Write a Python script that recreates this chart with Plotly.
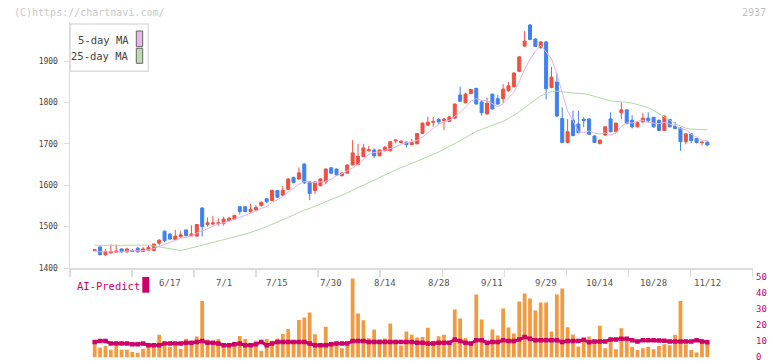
import plotly.graph_objects as go

# ---------------- data ----------------
opens = [1442, 1451, 1432, 1436, 1438, 1446, 1439, 1442, 1448, 1440,
         1443, 1442, 1460, 1489, 1482, 1469, 1476, 1492, 1478, 1477,
         1545, 1505, 1506, 1508, 1508, 1514, 1518, 1548, 1548, 1537,
         1540, 1551, 1567, 1563, 1587, 1576, 1590, 1619, 1615, 1651,
         1608, 1587, 1599, 1608, 1642, 1639, 1623, 1629, 1649, 1650,
         1669, 1683, 1685, 1671, 1683, 1683, 1707, 1703, 1704, 1698,
         1700, 1725, 1745, 1752, 1759, 1756, 1754, 1762, 1818, 1799,
         1821, 1834, 1801, 1772, 1820, 1809, 1809, 1828, 1838, 1875,
         1936, 1987, 1953, 1932, 1946, 1836, 1849, 1761, 1703, 1757,
         1748, 1759, 1760, 1719, 1701, 1721, 1760, 1729, 1775, 1782,
         1757, 1741, 1753, 1762, 1764, 1757, 1732, 1759, 1743, 1738,
         1705, 1724, 1713, 1703, 1704]
highs = [1444, 1452, 1446, 1457, 1457, 1447, 1449, 1446, 1450, 1451,
         1455, 1458, 1470, 1490, 1484, 1492, 1489, 1492, 1503, 1506,
         1547, 1522, 1526, 1520, 1524, 1524, 1529, 1550, 1549, 1555,
         1552, 1560, 1568, 1590, 1588, 1598, 1617, 1620, 1643, 1653,
         1609, 1609, 1617, 1640, 1644, 1640, 1632, 1650, 1709, 1700,
         1700, 1695, 1689, 1687, 1695, 1706, 1710, 1709, 1705, 1712,
         1726, 1751, 1765, 1765, 1762, 1762, 1767, 1797, 1838, 1823,
         1833, 1835, 1806, 1812, 1821, 1818, 1844, 1849, 1872, 1911,
         1972, 1989, 1955, 1947, 1948, 1886, 1870, 1788, 1760, 1780,
         1780, 1764, 1762, 1720, 1710, 1742, 1776, 1751, 1800, 1783,
         1769, 1753, 1774, 1776, 1765, 1758, 1768, 1760, 1753, 1740,
         1725, 1725, 1714, 1705, 1707]
lows = [1441, 1431, 1430, 1435, 1437, 1437, 1437, 1439, 1438, 1439,
        1442, 1441, 1454, 1462, 1468, 1468, 1474, 1477, 1476, 1476,
        1476, 1500, 1505, 1502, 1502, 1512, 1517, 1529, 1535, 1534,
        1538, 1548, 1557, 1562, 1570, 1574, 1589, 1606, 1613, 1603,
        1564, 1579, 1597, 1602, 1628, 1622, 1621, 1628, 1648, 1648,
        1668, 1682, 1665, 1670, 1682, 1682, 1701, 1701, 1691, 1697,
        1699, 1724, 1744, 1741, 1748, 1733, 1752, 1761, 1801, 1798,
        1820, 1795, 1768, 1771, 1783, 1794, 1799, 1826, 1836, 1873,
        1934, 1950, 1934, 1930, 1807, 1834, 1764, 1702, 1702, 1718,
        1725, 1740, 1722, 1702, 1698, 1719, 1728, 1728, 1759, 1747,
        1737, 1740, 1751, 1750, 1739, 1731, 1731, 1740, 1735, 1683,
        1699, 1701, 1701, 1696, 1695]
closes = [1444, 1432, 1440, 1440, 1441, 1439, 1446, 1440, 1439, 1446,
          1450, 1458, 1467, 1466, 1470, 1477, 1480, 1478, 1482, 1505,
          1500, 1509, 1509, 1509, 1518, 1520, 1527, 1536, 1536, 1542,
          1546, 1559, 1560, 1587, 1571, 1588, 1615, 1606, 1630, 1606,
          1580, 1608, 1615, 1639, 1629, 1625, 1629, 1649, 1678, 1670,
          1690, 1686, 1671, 1685, 1691, 1705, 1709, 1706, 1698, 1703,
          1725, 1750, 1752, 1754, 1753, 1760, 1765, 1796, 1803, 1820,
          1831, 1796, 1775, 1798, 1784, 1796, 1832, 1840, 1871, 1910,
          1948, 1952, 1935, 1946, 1833, 1861, 1767, 1703, 1729, 1720,
          1727, 1756, 1723, 1703, 1709, 1741, 1729, 1750, 1782, 1749,
          1741, 1751, 1762, 1756, 1741, 1732, 1767, 1741, 1737, 1705,
          1724, 1708, 1703, 1704, 1697]
# closes of the 24 sessions before the first visible one (only feed the moving averages)
pre_closes = [1445, 1440, 1438, 1442, 1436, 1440, 1444, 1438, 1441, 1439,
              1515, 1530, 1528, 1522, 1532, 1520,
              1410, 1402, 1406, 1402,
              1442, 1438, 1441, 1440]

bar_vals = [9.8, 6, 7, 4.6, 7, 4.6, 4.6, 3.3, 2.7, 5.2,
            7, 6.5, 14, 7, 6.5, 7, 5.2, 11.5, 9.8, 12.8,
            35, 11, 8.8, 11.3, 6.7, 8.8, 6.9, 13.2, 11.3, 6.3,
            10.3, 4, 11.3, 10.3, 11.7, 14.4, 17.6, 10.3, 23.2, 24.7,
            27.8, 14.2, 7, 19, 8, 8, 5.5, 7.5, 49, 27.2,
            23, 11.8, 17.2, 11.2, 11.6, 21, 10.8, 7.3, 16, 14,
            12.2, 12.6, 18.3, 10.2, 13, 14, 10, 29.7, 24.1, 12,
            8.5, 39, 23.4, 9, 17.2, 13.5, 30.3, 18.4, 14.7, 34.6,
            39.6, 36.5, 29, 34, 34, 16, 39, 42.7, 18.7, 14.1,
            6.6, 11, 12.8, 9.5, 19.5, 5.5, 10.5, 5, 18, 10,
            6.5, 4.5, 5.5, 6.5, 5, 7, 8, 7.5, 14, 35,
            8, 4.5, 3, 9.5, 9.5]
ai_vals = [9.5, 10, 10, 8.5, 8.5, 8.5, 8.5, 8, 8, 8.5,
           7.5, 7.5, 7.5, 8.5, 8.5, 8.5, 8.5, 9, 9, 9.5,
           10, 9, 9, 8.5, 7.5, 7.5, 8, 8.5, 7.5, 7.5,
           8, 9.5, 7.5, 8.5, 9.5, 9.5, 9.5, 9.5, 9.5, 9.5,
           8.5, 7.5, 7.5, 7.5, 8, 8.5, 8.5, 8.5, 10, 10,
           10, 9.5, 9.5, 9.5, 9.5, 9.5, 9.5, 9.5, 9.5, 9.5,
           9, 9, 8.5, 8.5, 9, 9, 9, 11, 10, 9,
           8.5, 10.5, 10.5, 9, 9.5, 9.5, 10.5, 10, 10, 11,
           12.5, 11.5, 10.5, 10.5, 10.5, 10.5, 10.5, 9.5, 10, 10,
           10, 10.8, 9.3, 9.7, 9.7, 9.7, 11, 11, 11.4, 11.4,
           10.6, 9.7, 10.6, 10.6, 10.6, 10.4, 10.2, 9.7, 9.7, 9.7,
           9.7, 9.7, 10.6, 9.8, 9.3]

tick_labels = ["6/17", "7/1", "7/15", "7/30", "8/14", "8/28", "9/11",
               "9/29", "10/14", "10/28", "11/12"]
tick_index = [14, 24, 34, 44, 54, 64, 74, 84, 94, 104, 114]
y_ticks = [1400, 1500, 1600, 1700, 1800, 1900]
y2_ticks = [0, 10, 20, 30, 40, 50]

# ---------------- derived ----------------
n = len(closes)
idx = list(range(n))
full = pre_closes + closes
off = len(pre_closes)
ma5 = [sum(full[off + i - 4: off + i + 1]) / 5 for i in range(n)]
ma25 = [sum(full[off + i - 24: off + i + 1]) / 25 for i in range(n)]

# ---------------- geometry helpers ----------------
W, H = 772, 361
ML, MR = 70, 19
PW = W - ML - MR
STEP = 5.374          # px per session
X0_PX = 94.7          # pixel of first session
x_lo = (ML - X0_PX) / STEP
x_hi = x_lo + PW / STEP


def px(p):
    return (p - ML) / PW


def py(p):
    return 1 - p / H


up_top_px, up_bot_px = 22, 268
pps = 0.414  # px per price unit
y_hi = 1400 + (up_bot_px - up_top_px) / pps

low_pps = 1.608  # px per unit in the lower panel
low_zero_px = 357.2
low_min = -0.6
low_bot_px = low_zero_px - low_min * low_pps
low_top_px = low_zero_px - 50 * low_pps

FONT = "DejaVu Sans Mono"
RED = "#ef5040"
BLUE = "#4080f0"
MAG = "#cc0066"

fig = go.Figure()

fig.add_trace(go.Bar(x=idx, y=bar_vals, marker=dict(color="#f39a40", line=dict(width=0)),
                     xaxis="x2", yaxis="y2", hoverinfo="skip"))
fig.add_trace(go.Scatter(x=idx, y=ai_vals, mode="lines+markers",
                         line=dict(color=MAG, width=3),
                         marker=dict(symbol="square", size=4.5, color=MAG),
                         xaxis="x2", yaxis="y2"))

fig.add_trace(go.Scatter(x=idx, y=ma25, mode="lines", line=dict(color="#b2d9a2", width=1)))
fig.add_trace(go.Scatter(x=idx, y=ma5, mode="lines", line=dict(color="#e8b0e8", width=1)))
fig.add_trace(go.Candlestick(
    x=idx, open=opens, high=highs, low=lows, close=closes,
    increasing=dict(line=dict(color=RED, width=1), fillcolor=RED),
    decreasing=dict(line=dict(color=BLUE, width=1), fillcolor=BLUE),
    whiskerwidth=0))

grid_ticks = [x_lo + 11.545 * k for k in range(12)]

annotations = [
    dict(text="(C)https://chartnavi.com/", x=px(12), y=py(12), xref="paper", yref="paper",
         xanchor="left", yanchor="middle", showarrow=False,
         font=dict(family=FONT, size=10, color="#c8c8c8")),
    dict(text="2937", x=px(768), y=py(12), xref="paper", yref="paper",
         xanchor="right", yanchor="middle", showarrow=False,
         font=dict(family=FONT, size=10, color="#c0c0c0")),
    dict(text="5-day MA", x=px(131), y=py(40), xref="paper", yref="paper",
         xanchor="right", yanchor="middle", showarrow=False,
         font=dict(family=FONT, size=10.5, color="#444")),
    dict(text="25-day MA", x=px(131), y=py(56), xref="paper", yref="paper",
         xanchor="right", yanchor="middle", showarrow=False,
         font=dict(family=FONT, size=10.5, color="#444")),
    dict(text="AI-Predict", x=px(75), y=py(286), xref="paper", yref="paper",
         xanchor="left", yanchor="middle", showarrow=False,
         font=dict(family=FONT, size=10.5, color=MAG)),
]
for lbl, ti in zip(tick_labels, tick_index):
    annotations.append(dict(text=lbl, x=ti, xref="x", y=py(283), yref="paper",
                            xanchor="center", yanchor="middle", showarrow=False,
                            font=dict(family=FONT, size=9, color="#555")))

shapes = [
    dict(type="rect", xref="paper", yref="paper", x0=px(70.3), x1=px(148.3), y0=py(71.3), y1=py(24),
         line=dict(color="#dddddd", width=1.5), fillcolor="white", layer="above"),
    dict(type="rect", xref="paper", yref="paper", x0=px(136.3), x1=px(142.7), y0=py(46.7), y1=py(31),
         line=dict(color="#666", width=1), fillcolor="#e8b6e8", layer="above"),
    dict(type="rect", xref="paper", yref="paper", x0=px(136.3), x1=px(142.7), y0=py(63.3), y1=py(48.3),
         line=dict(color="#666", width=1), fillcolor="#bcdcae", layer="above"),
    dict(type="rect", xref="paper", yref="paper", x0=px(142.3), x1=px(149.3), y0=py(292.7), y1=py(277),
         line=dict(width=0), fillcolor=MAG),
]

fig.update_layout(
    width=W, height=H,
    margin=dict(l=ML, r=MR, t=0, b=0, autoexpand=False),
    paper_bgcolor="white", plot_bgcolor="white",
    showlegend=False,
    boxgap=0.2,
    bargap=0.3,
    annotations=annotations,
    shapes=shapes,
    xaxis=dict(domain=[0, 1], range=[x_lo, x_hi], anchor="y", automargin=False,
               rangeslider=dict(visible=False),
               showgrid=False, zeroline=False,
               showline=True, linecolor="#dddddd", linewidth=1.5,
               ticks="outside", ticklen=7, tickwidth=1.5, tickcolor="#dddddd",
               tickvals=grid_ticks, showticklabels=False),
    yaxis=dict(domain=[py(up_bot_px), py(up_top_px)], range=[1400, y_hi], anchor="x",
               automargin=False,
               showgrid=False, zeroline=False,
               showline=True, linecolor="#dddddd", linewidth=1.5,
               ticks="outside", ticklen=5, tickwidth=1, tickcolor="#dddddd",
               tickvals=y_ticks, ticklabelstandoff=4,
               tickfont=dict(family=FONT, size=8, color="#444")),
    xaxis2=dict(domain=[0, 1], range=[x_lo, x_hi], anchor="y2", matches="x",
                automargin=False, visible=False),
    yaxis2=dict(domain=[py(low_bot_px), py(low_top_px)], range=[low_min, 50], anchor="x2",
                side="right", automargin=False, ticklabeloverflow="allow",
                showgrid=False, zeroline=False, showline=False, ticks="",
                tickvals=y2_ticks, ticklabelstandoff=2,
                tickfont=dict(family=FONT, size=9, color=MAG)),
)

fig.write_html("out.html",
               config={"displayModeBar": False, "staticPlot": True},
               post_script="document.body.style.margin='0';document.body.style.overflow='hidden';")
